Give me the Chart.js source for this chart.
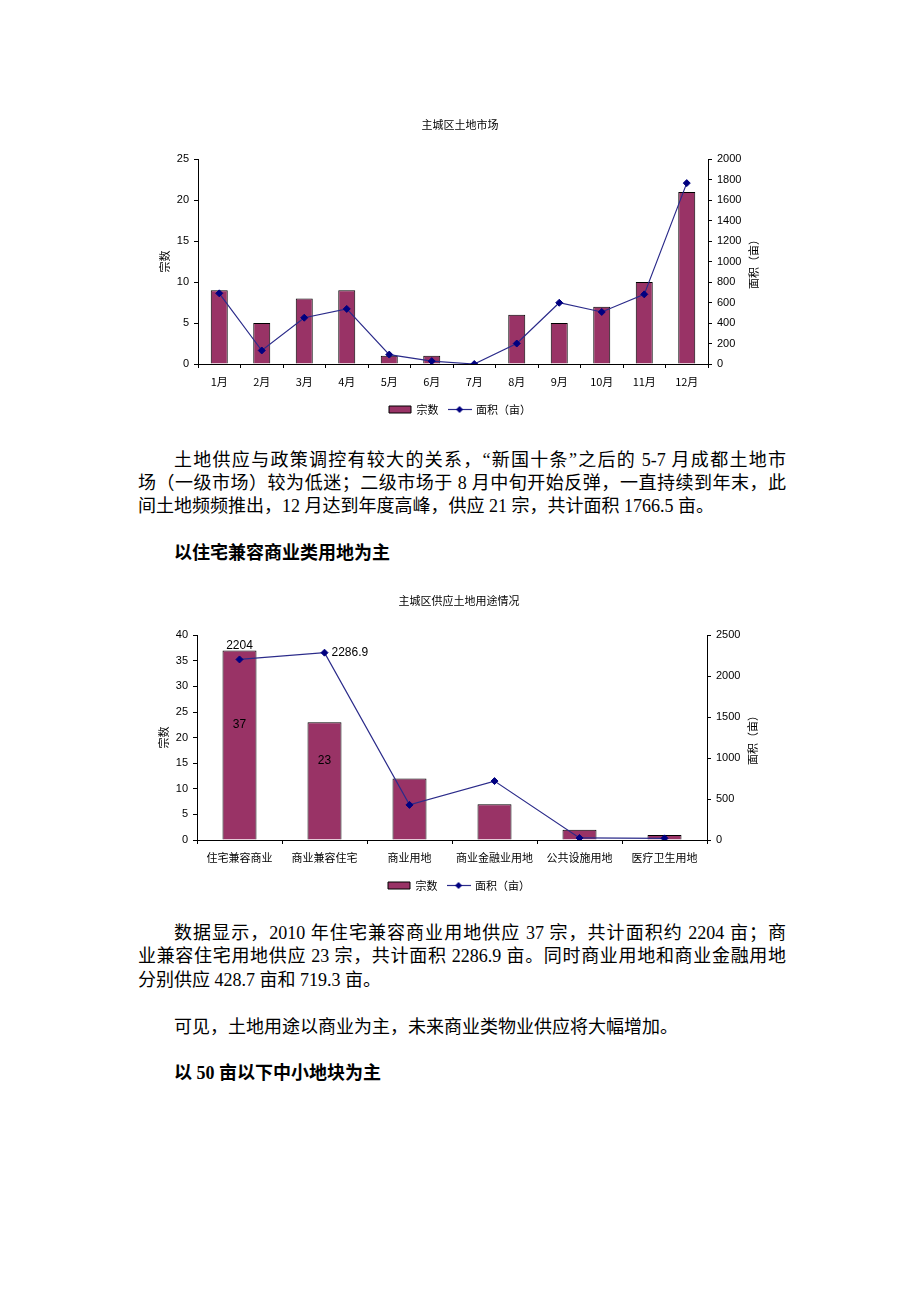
<!DOCTYPE html>
<html lang="zh-CN">
<head>
<meta charset="utf-8">
<title>主城区土地市场</title>
<script src="https://cdn.jsdelivr.net/npm/chart.js@4.4.1/dist/chart.umd.min.js"></script>
<style>
  html, body { margin: 0; padding: 0; background: #fff; }
  body { width: 920px; height: 1302px; position: relative; overflow: hidden; }
  .ln {
    position: absolute; left: 138px; width: 648px; height: 23px;
    line-height: 23px; font-size: 18px; color: #000;
    font-family: "Liberation Serif", "Noto Sans CJK SC", serif;
    text-align: justify; text-align-last: justify;
  }
  .ln.last { text-align-last: left; }
  .ln.ind { text-indent: 36px; }
  .ln.hd { font-weight: bold; }
  .box { position: absolute; }
</style>
</head>
<body>

<div class="box" style="left:110px; top:100px;"><canvas id="c1" width="700" height="325"></canvas></div>

<div class="ln ind" style="top:449px;">土地供应与政策调控有较大的关系，“新国十条”之后的 5-7 月成都土地市</div>
<div class="ln" style="top:472px;">场（一级市场）较为低迷；二级市场于 8 月中旬开始反弹，一直持续到年末，此</div>
<div class="ln last" style="top:495px;">间土地频频推出，12 月达到年度高峰，供应 21 宗，共计面积 1766.5 亩。</div>

<div class="ln ind last hd" style="top:542px;">以住宅兼容商业类用地为主</div>

<div class="box" style="left:109px; top:576px;"><canvas id="c2" width="700" height="325"></canvas></div>

<div class="ln ind" style="top:922px;">数据显示，2010 年住宅兼容商业用地供应 37 宗，共计面积约 2204 亩；商</div>
<div class="ln" style="top:945px;">业兼容住宅用地供应 23 宗，共计面积 2286.9 亩。同时商业用地和商业金融用地</div>
<div class="ln last" style="top:969px;">分别供应 428.7 亩和 719.3 亩。</div>

<div class="ln ind last" style="top:1016px;">可见，土地用途以商业为主，未来商业类物业供应将大幅增加。</div>

<div class="ln ind last hd" style="top:1062px;">以 50 亩以下中小地块为主</div>

<script>
// 图一：主城区土地市场
const months = ['1月', '2月', '3月', '4月', '5月', '6月', '7月', '8月', '9月', '10月', '11月', '12月'];
const monthCount = [9, 5, 8, 9, 1, 1, 0, 6, 5, 7, 10, 21];
const monthArea = [690, 132, 452, 538, 92, 28, 0, 200, 598, 508, 680, 1766.5];
const countTicks1 = [0, 25, 5];     // min, max, step
const areaTicks1 = [0, 2000, 200];

// 图二：主城区供应土地用途情况
const uses = ['住宅兼容商业', '商业兼容住宅', '商业用地', '商业金融业用地', '公共设施用地', '医疗卫生用地'];
const useCount = [37, 23, 12, 7, 2, 1];
const useArea = [2204, 2286.9, 428.7, 719.3, 25, 20];
const useCountLabels = ['37', '23', '', '', '', ''];
const useAreaLabels = ['2204', '2286.9', '', '', '', ''];
const countTicks2 = [0, 40, 5];
const areaTicks2 = [0, 2500, 500];

const seriesNames = ['宗数', '面积（亩）'];

const NUM_FONT = '"Liberation Sans", Arial, sans-serif';
const CJK_FONT = '"Noto Sans CJK SC", sans-serif';
const BAR_COLOR = '#993366';
const LINE_COLOR = '#2b2b8a';
const POINT_COLOR = '#000080';

Chart.defaults.font.family = NUM_FONT;
Chart.defaults.color = '#000';

// legend icon for the line series: a short line with a diamond
function lineIcon() {
    const c = document.createElement('canvas');
    c.width = 24; c.height = 9;
    const g = c.getContext('2d');
    g.strokeStyle = LINE_COLOR;
    g.lineWidth = 1.2;
    g.beginPath(); g.moveTo(0, 4.5); g.lineTo(24, 4.5); g.stroke();
    g.fillStyle = POINT_COLOR;
    g.beginPath();
    g.moveTo(12, 1); g.lineTo(15.5, 4.5); g.lineTo(12, 8); g.lineTo(8.5, 4.5);
    g.closePath(); g.fill();
    return c;
}
const legendLine = lineIcon();

// rotated axis titles, both reading bottom to top like the original
const axisTitles = {
    id: 'axisTitles',
    afterDraw(chart, args, opts) {
        const { ctx, chartArea: a } = chart;
        const cy = (a.top + a.bottom) / 2;
        ctx.save();
        ctx.font = '11px ' + CJK_FONT;
        ctx.fillStyle = '#000';
        ctx.textAlign = 'center';
        ctx.textBaseline = 'middle';
        [[opts.left, a.left - 33], [opts.right, a.right + 46]].forEach(([t, x]) => {
            ctx.save();
            ctx.translate(x, cy);
            ctx.rotate(-Math.PI / 2);
            ctx.fillText(t, 0, 0);
            ctx.restore();
        });
        ctx.restore();
    }
};

// data labels for chart 2
const valueLabels = {
    id: 'valueLabels',
    afterDatasetsDraw(chart, args, opts) {
        if (!opts.sets) return;
        const ctx = chart.ctx;
        ctx.save();
        ctx.font = '12px ' + NUM_FONT;
        ctx.fillStyle = '#000';
        opts.sets.forEach(s => {
            const meta = chart.getDatasetMeta(s.dataset);
            s.labels.forEach((t, i) => {
                if (!t) return;
                const el = meta.data[i];
                const place = s.place[i];
                if (place === 'inside') {
                    ctx.textAlign = 'center'; ctx.textBaseline = 'middle';
                    ctx.fillText(t, el.x, (el.y + el.base) / 2 - 20);
                } else if (place === 'top') {
                    ctx.textAlign = 'center'; ctx.textBaseline = 'bottom';
                    ctx.fillText(t, el.x, el.y - 8);
                } else {
                    ctx.textAlign = 'left'; ctx.textBaseline = 'middle';
                    ctx.fillText(t, el.x + 7, el.y);
                }
            });
        });
        ctx.restore();
    }
};

function axisY(ticks, pos, width) {
    return {
        position: pos,
        min: ticks[0],
        max: ticks[1],
        ticks: {
            stepSize: ticks[2],
            font: { size: 11, family: NUM_FONT },
            color: '#000',
            padding: 5,
            callback: v => String(v)
        },
        grid: { display: true, drawOnChartArea: false, drawTicks: true, tickLength: 4, color: '#000' },
        border: { display: true, color: '#000', width: 1 },
        afterFit: s => { s.width = width; }
    };
}

function makeChart(id, title, labels, counts, areas, countTicks, areaTicks, extra) {
    const ctx = document.getElementById(id).getContext('2d');
    return new Chart(ctx, {
        data: {
            labels: labels,
            datasets: [{
                type: 'bar',
                label: seriesNames[0],
                data: counts,
                backgroundColor: BAR_COLOR,
                borderColor: '#000',
                borderWidth: 1,
                barPercentage: 0.4,
                categoryPercentage: 1,
                yAxisID: 'y',
                order: 2
            }, {
                type: 'line',
                label: seriesNames[1],
                data: areas,
                borderColor: LINE_COLOR,
                borderWidth: 1.2,
                pointStyle: 'rectRot',
                pointRadius: 3.5,
                pointBackgroundColor: POINT_COLOR,
                pointBorderColor: POINT_COLOR,
                pointBorderWidth: 1,
                tension: 0,
                yAxisID: 'y1',
                order: 1
            }]
        },
        options: {
            responsive: false,
            animation: false,
            devicePixelRatio: 1,
            layout: { padding: 0 },
            scales: {
                x: {
                    ticks: { font: { size: 11, family: CJK_FONT }, color: '#000', padding: 7, maxRotation: 0, autoSkip: false },
                    grid: { display: true, drawOnChartArea: false, drawTicks: true, tickLength: 4, color: '#000', offset: true },
                    border: { display: true, color: '#000', width: 1 },
                    afterFit: s => { s.height = 30; }
                },
                y: axisY(countTicks, 'left', 88),
                y1: axisY(areaTicks, 'right', 102)
            },
            plugins: {
                title: {
                    display: true,
                    text: title,
                    font: { size: 11, family: CJK_FONT, weight: 'normal' },
                    color: '#000',
                    padding: { top: 18, bottom: 28 }
                },
                legend: {
                    position: 'bottom',
                    labels: {
                        usePointStyle: true,
                        pointStyleWidth: 22,
                        boxHeight: 7,
                        padding: 10,
                        font: { size: 11, family: CJK_FONT },
                        color: '#000',
                        sort: (a, b) => a.datasetIndex - b.datasetIndex,
                        generateLabels(chart) {
                            const items = Chart.defaults.plugins.legend.labels.generateLabels(chart);
                            items.forEach(it => {
                                it.pointStyle = chart.data.datasets[it.datasetIndex].type === 'line' ? legendLine : 'rect';
                            });
                            return items;
                        }
                    }
                },
                tooltip: { enabled: false },
                axisTitles: { left: seriesNames[0], right: seriesNames[1] },
                valueLabels: extra || {}
            }
        },
        plugins: [axisTitles, valueLabels]
    });
}

makeChart('c1', '主城区土地市场', months, monthCount, monthArea, countTicks1, areaTicks1);

makeChart('c2', '主城区供应土地用途情况', uses, useCount, useArea, countTicks2, areaTicks2, {
    sets: [
        { dataset: 0, labels: useCountLabels, place: useCountLabels.map(() => 'inside') },
        { dataset: 1, labels: useAreaLabels, place: ['top', 'right', 'top', 'top', 'top', 'top'] }
    ]
});
</script>
</body>
</html>
